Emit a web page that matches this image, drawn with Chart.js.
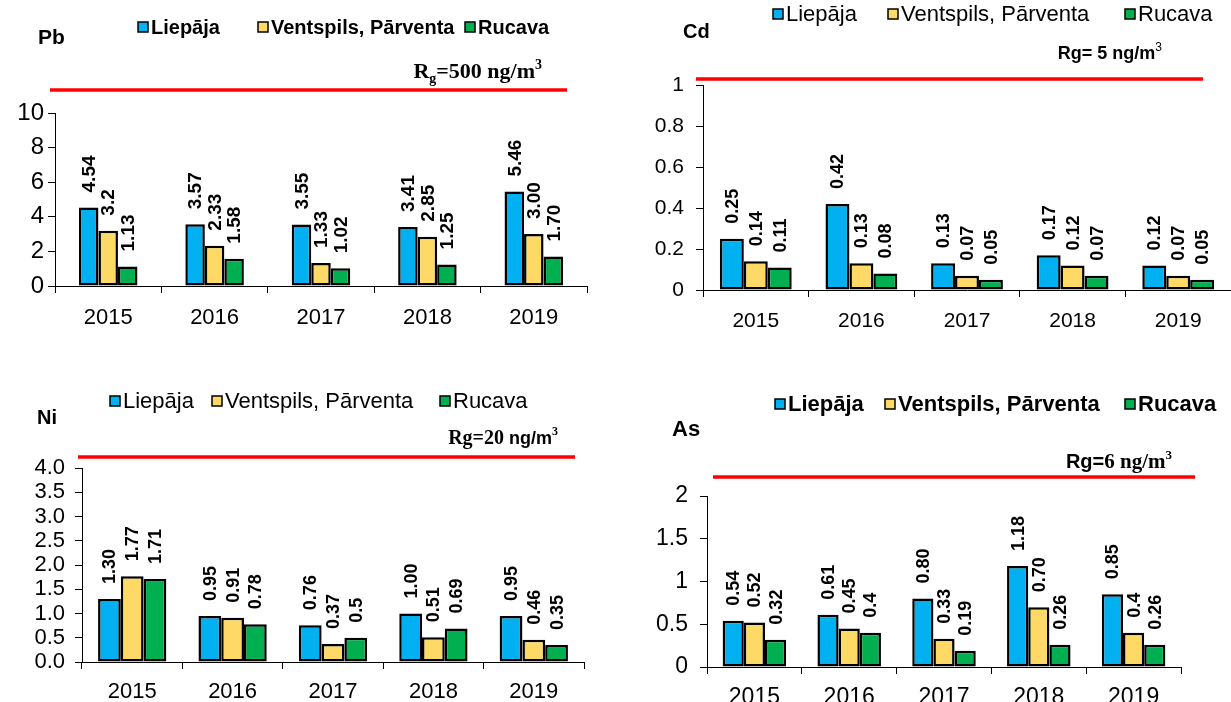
<!DOCTYPE html>
<html><head><meta charset="utf-8">
<script src="https://cdn.jsdelivr.net/npm/chart.js@4.4.1/dist/chart.umd.min.js"></script>
<style>
html,body{margin:0;padding:0;background:#fff;width:1231px;height:702px;overflow:hidden}
canvas{position:absolute;left:0;top:0}
</style></head><body>
<canvas id="cPb" width="1231" height="702"></canvas>
<canvas id="cCd" width="1231" height="702"></canvas>
<canvas id="cNi" width="1231" height="702"></canvas>
<canvas id="cAs" width="1231" height="702"></canvas>
<script>
// ---- data ----
const years = ['2015','2016','2017','2018','2019'];
const seriesNames = ['Liepāja','Ventspils, Pārventa','Rucava'];
const seriesColors = ['#00B0F0','#FFD966','#00B050'];

const pbLiepaja   = ['4.54','3.57','3.55','3.41','5.46'];
const pbVentspils = ['3.2','2.33','1.33','2.85','3.00'];
const pbRucava    = ['1.13','1.58','1.02','1.25','1.70'];
const pbTicks     = ['0','2','4','6','8','10'];

const cdLiepaja   = ['0.25','0.42','0.13','0.17','0.12'];
const cdVentspils = ['0.14','0.13','0.07','0.12','0.07'];
const cdRucava    = ['0.11','0.08','0.05','0.07','0.05'];
const cdTicks     = ['0','0.2','0.4','0.6','0.8','1'];

const niLiepaja   = ['1.30','0.95','0.76','1.00','0.95'];
const niVentspils = ['1.77','0.91','0.37','0.51','0.46'];
const niRucava    = ['1.71','0.78','0.5','0.69','0.35'];
const niTicks     = ['0.0','0.5','1.0','1.5','2.0','2.5','3.0','3.5','4.0'];

const asLiepaja   = ['0.54','0.61','0.80','1.18','0.85'];
const asVentspils = ['0.52','0.45','0.33','0.70','0.4'];
const asRucava    = ['0.32','0.4','0.19','0.26','0.26'];
const asTicks     = ['0','0.5','1','1.5','2'];

const SANS = '"Liberation Sans", Arial, sans-serif';
const SERIF = '"Liberation Serif", "Times New Roman", serif';

// ---- panel layout ----
const panels = [
  { id:'cPb', title:'Pb', series:[pbLiepaja,pbVentspils,pbRucava], ticks:pbTicks,
    area:{l:55,r:587,t:113,b:286}, cat:0.55, tickFont:22, yTickFont:24, xPad:12, yPad:4, labelFont:19,
    titlePos:{x:38,y:38,size:21},
    legend:{y:27, xs:[138,258,465], bold:true, size:20},
    red:{x1:50,x2:567,y:90},
    rg:{xEnd:542, y:78, parts:[
      {t:'R',f:'bold 22px '+SERIF},{t:'g',f:'bold 14px '+SERIF,dy:5},
      {t:'=500 ng/m',f:'bold 22px '+SERIF},{t:'3',f:'bold 14px '+SERIF,dy:-9}]}},
  { id:'cCd', title:'Cd', series:[cdLiepaja,cdVentspils,cdRucava], ticks:cdTicks,
    area:{l:703,r:1231,t:85,b:290}, cat:0.68, tickFont:21, yTickFont:21, xPad:12, yPad:12, labelFont:18,
    titlePos:{x:683,y:32,size:20},
    legend:{y:14, xs:[773,888,1125], bold:false, size:22},
    red:{x1:696,x2:1203,y:79},
    rg:{xEnd:1162, y:59, parts:[
      {t:'Rg= 5 ng/m',f:'bold 18px '+SANS},{t:'3',f:'12px '+SANS,dy:-8}]}},
  { id:'cNi', title:'Ni', series:[niLiepaja,niVentspils,niRucava], ticks:niTicks,
    area:{l:82,r:584,t:468,b:662}, cat:0.68, tickFont:22, yTickFont:22, xPad:10, yPad:10, labelFont:18,
    titlePos:{x:37,y:418,size:20},
    legend:{y:401, xs:[110,212,440], bold:false, size:22},
    red:{x1:78,x2:575,y:457},
    rg:{xEnd:558, y:444, parts:[
      {t:'Rg=20 ',f:'bold 20px '+SERIF},{t:'ng/m',f:'bold 18px '+SANS},{t:'3',f:'bold 12px '+SERIF,dy:-9}]}},
  { id:'cAs', title:'As', series:[asLiepaja,asVentspils,asRucava], ticks:asTicks,
    area:{l:707,r:1181,t:496,b:667}, cat:0.67, tickFont:23, yTickFont:23, xPad:10, yPad:12, labelFont:18,
    titlePos:{x:672,y:430,size:22},
    legend:{y:404, xs:[775,885,1125], bold:true, size:22},
    red:{x1:713,x2:1195,y:477},
    rg:{xEnd:1172, y:468, parts:[
      {t:'Rg=',f:'bold 20px '+SANS},{t:'6 ng/m',f:'bold 21px '+SERIF},{t:'3',f:'bold 13px '+SERIF,dy:-9}]}}
];

const Y_W = 60, X_H = 45, W = 1231, H = 702;

const decoPlugin = {
  id:'deco',
  afterDatasetsDraw(chart, args, o){
    const ctx = chart.ctx;
    ctx.save();
    // value labels, rotated
    ctx.fillStyle = '#000';
    ctx.font = 'bold ' + o.labelFont + 'px ' + SANS;
    ctx.textAlign = 'left'; ctx.textBaseline = 'middle';
    chart.data.datasets.forEach((ds, di) => {
      const meta = chart.getDatasetMeta(di);
      meta.data.forEach((el, i) => {
        ctx.save();
        ctx.translate(el.x + 1, el.y - 15);
        ctx.rotate(-Math.PI/2);
        ctx.fillText(ds.texts[i], 0, 0);
        ctx.restore();
      });
    });
    // title
    ctx.font = 'bold ' + o.titlePos.size + 'px ' + SANS;
    ctx.textAlign = 'left'; ctx.textBaseline = 'middle';
    ctx.fillText(o.title, o.titlePos.x, o.titlePos.y);
    // legend
    const lg = o.legend;
    ctx.font = (lg.bold ? 'bold ' : '') + lg.size + 'px ' + SANS;
    chart.data.datasets.forEach((ds, di) => {
      const bx = lg.xs[di];
      ctx.fillStyle = ds.backgroundColor;
      ctx.fillRect(bx, lg.y - 5, 10, 10);
      ctx.lineWidth = 1.5; ctx.strokeStyle = '#000';
      ctx.strokeRect(bx, lg.y - 5, 10, 10);
      ctx.fillStyle = '#000';
      ctx.fillText(ds.label, bx + 13, lg.y + 1);
    });
    // red line
    ctx.strokeStyle = '#FF0000'; ctx.lineWidth = 3.5;
    ctx.beginPath(); ctx.moveTo(o.red.x1, o.red.y); ctx.lineTo(o.red.x2, o.red.y); ctx.stroke();
    // Rg text (rich)
    ctx.textBaseline = 'alphabetic'; ctx.textAlign = 'left'; ctx.fillStyle = '#000';
    let total = 0;
    o.rg.parts.forEach(p => { ctx.font = p.f; total += ctx.measureText(p.t).width; });
    let x = o.rg.xEnd - total;
    o.rg.parts.forEach(p => { ctx.font = p.f; ctx.fillText(p.t, x, o.rg.y + (p.dy || 0)); x += ctx.measureText(p.t).width; });
    ctx.restore();
  }
};

panels.forEach(p => {
  const tickVals = p.ticks.map(Number);
  new Chart(document.getElementById(p.id), {
    type:'bar',
    data:{
      labels: years,
      datasets: p.series.map((arr, i) => ({
        label: seriesNames[i],
        data: arr.map(Number),
        texts: arr,
        backgroundColor: seriesColors[i],
        borderColor:'#000', borderWidth:2.5, borderSkipped:false,
        barPercentage:1.0, categoryPercentage:p.cat
      }))
    },
    options:{
      responsive:false, animation:false, devicePixelRatio:1,
      layout:{padding:{left:p.area.l - Y_W, right:W - p.area.r, top:p.area.t, bottom:H - p.area.b - X_H}},
      plugins:{
        legend:{display:false}, title:{display:false}, tooltip:{enabled:false},
        deco:{ labelFont:p.labelFont, title:p.title, titlePos:p.titlePos, legend:p.legend, red:p.red, rg:p.rg }
      },
      scales:{
        x:{
          offset:true,
          grid:{display:true, drawOnChartArea:false, drawTicks:true, tickLength:7, color:'#000', lineWidth:1, offset:true},
          border:{display:true, color:'#000', width:1},
          ticks:{color:'#000', font:{family:SANS, size:p.tickFont}, padding:p.xPad, maxRotation:0, autoSkip:false},
          afterFit(s){ s.height = X_H; }
        },
        y:{
          min:tickVals[0], max:tickVals[tickVals.length-1],
          afterBuildTicks(s){ s.ticks = tickVals.map(v => ({value:v})); },
          grid:{display:true, drawOnChartArea:false, drawTicks:true, tickLength:7, color:'#000', lineWidth:1},
          border:{display:true, color:'#000', width:1},
          ticks:{color:'#000', font:{family:SANS, size:p.yTickFont}, padding:p.yPad, autoSkip:false,
                 callback:(v, i) => p.ticks[i]},
          afterFit(s){ s.width = Y_W; }
        }
      }
    },
    plugins:[decoPlugin]
  });
});
</script>
</body></html>
